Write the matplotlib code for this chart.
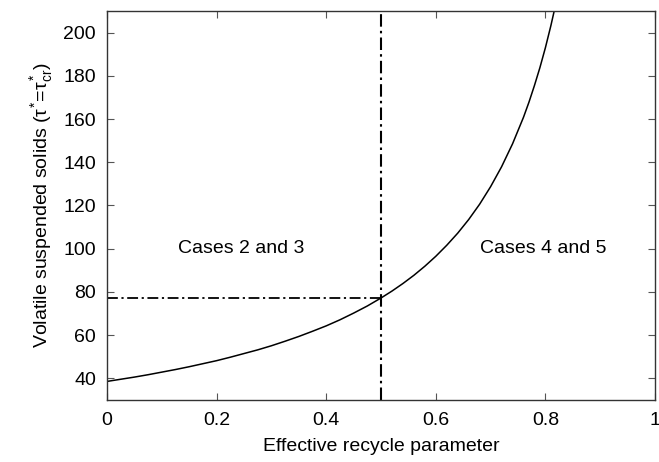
import matplotlib
matplotlib.use("Agg")
import matplotlib.pyplot as plt

plt.rcParams["font.family"] = ["Liberation Sans", "DejaVu Sans"]
plt.rcParams["mathtext.fontset"] = "custom"
plt.rcParams["mathtext.rm"] = "Liberation Sans"
plt.rcParams["mathtext.it"] = "Liberation Sans"
plt.rcParams["mathtext.sf"] = "Liberation Sans"

# curve
recycle = [0, 0.025, 0.05, 0.075, 0.1, 0.125, 0.15, 0.175, 0.2, 0.225, 0.25,
           0.275, 0.3, 0.325, 0.35, 0.375, 0.4, 0.425, 0.45, 0.475, 0.5,
           0.52, 0.54, 0.56, 0.58, 0.6, 0.62, 0.64, 0.66, 0.68, 0.7, 0.72,
           0.74, 0.76, 0.77, 0.78, 0.79, 0.8, 0.81, 0.82]
vss = [38.6, 39.6, 40.6, 41.7, 42.9, 44.1, 45.4, 46.8, 48.2, 49.8, 51.5,
       53.2, 55.1, 57.2, 59.4, 61.8, 64.3, 67.1, 70.2, 73.5, 77.2,
       80.4, 83.9, 87.7, 91.9, 96.5, 101.6, 107.2, 113.5, 120.6, 128.7, 137.9,
       148.5, 160.8, 167.8, 175.5, 183.8, 193.0, 203.2, 214.4]

x_crit = 0.5
y_crit = 77
x_ticks = [0, 0.2, 0.4, 0.6, 0.8, 1]
x_ticklabels = ["0", "0.2", "0.4", "0.6", "0.8", "1"]
y_ticks = [40, 60, 80, 100, 120, 140, 160, 180, 200]

fig = plt.figure(figsize=(6.59, 4.62), dpi=100)
ax = fig.add_axes([0.1624, 0.1342, 0.8315, 0.842])

ax.plot(recycle, vss, color="black", lw=1.1)
dashdot = (0, (6, 2, 1.2, 2))
ax.plot([0, x_crit], [y_crit, y_crit], color="black", lw=1.3, linestyle=dashdot)
ax.axvline(x_crit, color="black", lw=1.5, linestyle=dashdot)

ax.text(0.245, 100, "Cases 2 and 3", ha="center", va="center", fontsize=14)
ax.text(0.796, 100, "Cases 4 and 5", ha="center", va="center", fontsize=14)

ax.set_xlim(0, 1)
ax.set_ylim(30, 210)
ax.set_xticks(x_ticks)
ax.set_xticklabels(x_ticklabels)
ax.set_yticks(y_ticks)
ax.tick_params(direction="in", top=True, right=True, length=5, width=0.8,
               color="#555555", labelsize=14)
ax.tick_params(axis="x", pad=9)
ax.tick_params(axis="y", pad=8)
for s in ax.spines.values():
    s.set_linewidth(1.0)
    s.set_color("#333333")

ax.set_xlabel("Effective recycle parameter", fontsize=14, labelpad=6)
ax.set_ylabel(r"Volatile suspended solids ($\tau^{*}\!=\!\tau^{*}_{\rm cr}$)",
              fontsize=14, labelpad=6)

fig.savefig("out.png", dpi=100)
